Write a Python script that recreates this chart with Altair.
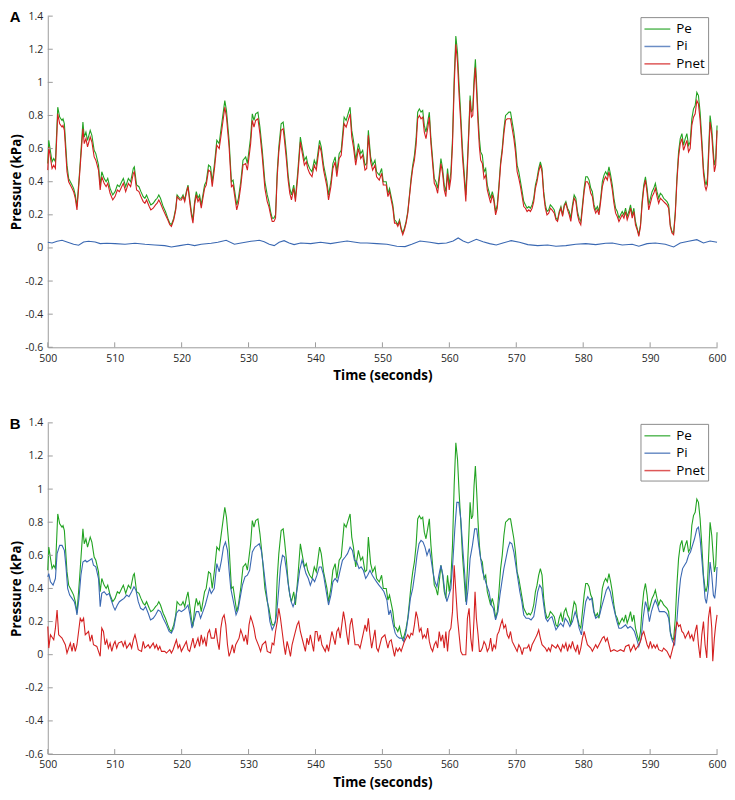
import altair as alt
import pandas as pd

# ---------------- data ----------------
# Pe (shared by both panels) and Pnet of panel A share the same time stamps
PE_T = [
    500.0, 500.15, 500.64, 500.89, 501.14, 501.49, 501.78, 502.13, 502.28, 502.48,
    502.87, 503.12, 503.37, 503.62, 503.86, 504.11, 504.36, 504.75, 505.25, 505.45,
    505.70, 505.94, 506.34, 506.59, 506.93, 507.18, 507.58, 507.83, 508.07, 508.42,
    508.72, 508.96, 509.31, 509.71, 510.05, 510.40, 510.70, 511.04, 511.29, 511.64,
    512.04, 512.38, 512.78, 512.93, 513.27, 513.62, 513.92, 514.26, 514.51, 514.76,
    515.16, 515.40, 515.75, 516.10, 516.34, 516.59, 516.84, 517.24, 517.58, 517.93,
    518.23, 518.47, 518.82, 519.12, 519.32, 519.71, 519.96, 520.21, 520.46, 520.70,
    520.95, 521.20, 521.45, 521.69, 521.94, 522.19, 522.44, 522.68, 522.93, 523.18,
    523.43, 523.67, 524.02, 524.32, 524.57, 524.91, 525.26, 525.61, 525.86, 526.45,
    526.70, 527.09, 527.44, 527.69, 527.94, 528.23, 528.48, 528.83, 529.17, 529.57,
    529.82, 530.07, 530.31, 530.56, 530.81, 531.06, 531.40, 531.70, 532.05, 532.44,
    532.79, 533.04, 533.29, 533.53, 533.78, 534.03, 534.28, 534.52, 534.87, 535.17,
    535.37, 535.66, 535.91, 536.16, 536.41, 536.75, 537.00, 537.35, 537.74, 537.99,
    538.34, 538.63, 538.83, 539.13, 539.48, 539.82, 540.12, 540.61, 540.86, 541.21,
    541.71, 541.95, 542.30, 542.60, 542.94, 543.19, 543.54, 543.84, 544.28, 544.58,
    545.17, 545.42, 545.67, 546.01, 546.41, 546.76, 547.05, 547.40, 547.65, 547.90,
    548.24, 548.54, 548.89, 549.13, 549.53, 549.88, 550.13, 550.57, 550.82, 551.06,
    551.31, 551.56, 551.81, 552.05, 552.30, 552.55, 552.80, 553.04, 553.29, 553.54,
    553.79, 554.04, 554.28, 554.53, 554.78, 555.03, 555.27, 555.52, 555.77, 556.02,
    556.26, 556.51, 556.76, 557.01, 557.25, 557.50, 557.75, 558.00, 558.25, 558.49,
    558.74, 558.99, 559.24, 559.48, 559.73, 559.98, 560.23, 560.47, 560.72, 560.97,
    561.22, 561.46, 561.71, 561.96, 562.21, 562.46, 562.70, 562.95, 563.10, 563.30,
    563.50, 563.69, 563.89, 564.09, 564.29, 564.49, 564.68, 564.93, 565.18, 565.43,
    565.67, 565.92, 566.17, 566.42, 566.66, 566.91, 567.16, 567.41, 567.66, 567.90,
    568.15, 568.40, 568.65, 568.89, 569.14, 569.39, 569.64, 569.88, 570.13, 570.38,
    570.63, 570.88, 571.12, 571.37, 571.62, 571.87, 572.11, 572.36, 572.61, 572.86,
    573.10, 573.35, 573.60, 573.85, 574.10, 574.34, 574.59, 574.84, 575.09, 575.33,
    575.68, 575.93, 576.17, 576.42, 576.67, 576.92, 577.16, 577.41, 577.66, 577.91,
    578.15, 578.40, 578.65, 578.90, 579.15, 579.39, 579.64, 579.89, 580.14, 580.38,
    580.63, 580.88, 581.13, 581.37, 581.62, 581.87, 582.12, 582.36, 582.61, 582.86,
    583.11, 583.35, 583.60, 583.85, 584.10, 584.35, 584.59, 584.84, 585.09, 585.34,
    585.58, 585.83, 586.08, 586.33, 586.57, 586.82, 587.07, 587.32, 587.57, 587.81,
    588.06, 588.31, 588.56, 588.80, 589.05, 589.30, 589.55, 589.79, 590.04, 590.29,
    590.54, 590.78, 591.03, 591.28, 591.53, 591.78, 592.02, 592.27, 592.52, 592.77,
    593.01, 593.26, 593.51, 593.76, 594.00, 594.25, 594.50, 594.75, 594.99, 595.24,
    595.49, 595.74, 595.98, 596.23, 596.48, 596.73, 596.98, 597.22, 597.47, 597.72,
    597.97, 598.21, 598.36, 598.56, 598.81, 598.96, 599.21, 599.45, 599.60, 599.80,
    600.00,
]
PE_V = [
    0.51, 0.65, 0.52, 0.54, 0.52, 0.85, 0.79, 0.77, 0.78, 0.75,
    0.50, 0.42, 0.40, 0.38, 0.36, 0.32, 0.25, 0.46, 0.76, 0.67,
    0.70, 0.65, 0.71, 0.68, 0.59, 0.57, 0.50, 0.38, 0.46, 0.42,
    0.40, 0.42, 0.36, 0.32, 0.34, 0.38, 0.37, 0.40, 0.42, 0.37,
    0.42, 0.40, 0.48, 0.49, 0.38, 0.37, 0.34, 0.31, 0.30, 0.32,
    0.28, 0.26, 0.27, 0.29, 0.30, 0.32, 0.30, 0.25, 0.22, 0.18,
    0.15, 0.14, 0.18, 0.24, 0.32, 0.30, 0.30, 0.32, 0.29, 0.34,
    0.38, 0.30, 0.22, 0.17, 0.28, 0.34, 0.30, 0.32, 0.26, 0.32,
    0.38, 0.40, 0.50, 0.49, 0.40, 0.51, 0.65, 0.63, 0.71, 0.89,
    0.83, 0.65, 0.40, 0.41, 0.34, 0.26, 0.30, 0.40, 0.53, 0.55,
    0.51, 0.59, 0.67, 0.81, 0.77, 0.81, 0.82, 0.73, 0.59, 0.40,
    0.32, 0.28, 0.22, 0.18, 0.18, 0.20, 0.46, 0.61, 0.75, 0.76,
    0.69, 0.57, 0.44, 0.36, 0.32, 0.38, 0.30, 0.46, 0.67, 0.61,
    0.53, 0.55, 0.51, 0.48, 0.46, 0.53, 0.50, 0.65, 0.61, 0.50,
    0.40, 0.32, 0.40, 0.51, 0.55, 0.46, 0.57, 0.59, 0.79, 0.77,
    0.85, 0.71, 0.65, 0.53, 0.63, 0.57, 0.59, 0.50, 0.51, 0.71,
    0.55, 0.50, 0.53, 0.46, 0.44, 0.48, 0.40, 0.40, 0.33, 0.36,
    0.31, 0.26, 0.17, 0.16, 0.14, 0.17, 0.12, 0.09, 0.12, 0.16,
    0.22, 0.32, 0.42, 0.50, 0.56, 0.66, 0.82, 0.84, 0.82, 0.83,
    0.74, 0.70, 0.76, 0.82, 0.66, 0.54, 0.42, 0.40, 0.36, 0.44,
    0.54, 0.48, 0.38, 0.34, 0.48, 0.38, 0.46, 0.66, 1.02, 1.28,
    1.18, 0.98, 0.80, 0.60, 0.46, 0.32, 0.52, 0.76, 0.92, 0.82,
    0.84, 1.02, 1.14, 0.98, 0.80, 0.66, 0.58, 0.56, 0.46, 0.48,
    0.38, 0.34, 0.30, 0.34, 0.30, 0.22, 0.26, 0.38, 0.52, 0.60,
    0.72, 0.80, 0.81, 0.82, 0.82, 0.76, 0.70, 0.62, 0.50, 0.46,
    0.40, 0.34, 0.28, 0.26, 0.24, 0.25, 0.24, 0.26, 0.30, 0.38,
    0.42, 0.48, 0.52, 0.48, 0.34, 0.26, 0.22, 0.23, 0.26, 0.25,
    0.23, 0.18, 0.17, 0.22, 0.25, 0.20, 0.26, 0.28, 0.24, 0.22,
    0.18, 0.26, 0.32, 0.30, 0.22, 0.18, 0.16, 0.26, 0.36, 0.43,
    0.43, 0.41, 0.36, 0.34, 0.26, 0.23, 0.25, 0.22, 0.30, 0.40,
    0.44, 0.46, 0.44, 0.49, 0.44, 0.38, 0.30, 0.24, 0.22, 0.18,
    0.20, 0.22, 0.20, 0.24, 0.19, 0.22, 0.26, 0.20, 0.24, 0.16,
    0.12, 0.08, 0.14, 0.28, 0.38, 0.43, 0.36, 0.26, 0.30, 0.34,
    0.36, 0.39, 0.34, 0.30, 0.33, 0.32, 0.30, 0.29, 0.28, 0.26,
    0.14, 0.10, 0.09, 0.22, 0.42, 0.58, 0.66, 0.69, 0.62, 0.66,
    0.69, 0.62, 0.64, 0.78, 0.84, 0.86, 0.94, 0.92, 0.82, 0.66,
    0.48, 0.40, 0.38, 0.42, 0.66, 0.80, 0.72, 0.58, 0.50, 0.54,
    0.74,
]
PNET_A_V = [
    0.47, 0.61, 0.48, 0.50, 0.48, 0.81, 0.75, 0.73, 0.74, 0.71,
    0.46, 0.40, 0.38, 0.36, 0.34, 0.30, 0.23, 0.44, 0.72, 0.63,
    0.66, 0.61, 0.67, 0.64, 0.55, 0.53, 0.47, 0.35, 0.43, 0.39,
    0.37, 0.39, 0.33, 0.29, 0.31, 0.35, 0.34, 0.37, 0.39, 0.34,
    0.39, 0.37, 0.45, 0.46, 0.35, 0.34, 0.31, 0.28, 0.27, 0.29,
    0.25, 0.23, 0.24, 0.26, 0.27, 0.29, 0.27, 0.23, 0.20, 0.17,
    0.14, 0.13, 0.17, 0.23, 0.31, 0.29, 0.29, 0.31, 0.28, 0.33,
    0.37, 0.28, 0.20, 0.15, 0.26, 0.32, 0.28, 0.30, 0.24, 0.30,
    0.36, 0.38, 0.47, 0.46, 0.37, 0.48, 0.62, 0.60, 0.67, 0.85,
    0.79, 0.61, 0.37, 0.38, 0.31, 0.23, 0.27, 0.37, 0.50, 0.51,
    0.47, 0.55, 0.63, 0.77, 0.73, 0.77, 0.78, 0.69, 0.55, 0.36,
    0.28, 0.25, 0.20, 0.16, 0.16, 0.18, 0.43, 0.58, 0.71, 0.72,
    0.65, 0.53, 0.41, 0.33, 0.29, 0.36, 0.28, 0.43, 0.64, 0.58,
    0.50, 0.52, 0.48, 0.45, 0.43, 0.50, 0.47, 0.62, 0.58, 0.47,
    0.37, 0.29, 0.37, 0.48, 0.52, 0.43, 0.54, 0.56, 0.75, 0.73,
    0.81, 0.67, 0.61, 0.50, 0.60, 0.54, 0.56, 0.47, 0.48, 0.68,
    0.52, 0.47, 0.50, 0.43, 0.41, 0.45, 0.38, 0.38, 0.31, 0.34,
    0.29, 0.24, 0.15, 0.15, 0.13, 0.16, 0.11, 0.08, 0.11, 0.15,
    0.21, 0.31, 0.40, 0.48, 0.53, 0.62, 0.78, 0.80, 0.78, 0.79,
    0.70, 0.66, 0.72, 0.79, 0.63, 0.51, 0.39, 0.37, 0.33, 0.41,
    0.51, 0.45, 0.35, 0.31, 0.45, 0.35, 0.42, 0.62, 0.97, 1.23,
    1.12, 0.92, 0.75, 0.55, 0.42, 0.28, 0.49, 0.73, 0.89, 0.79,
    0.80, 0.98, 1.09, 0.93, 0.75, 0.61, 0.53, 0.51, 0.42, 0.44,
    0.35, 0.31, 0.27, 0.32, 0.28, 0.20, 0.24, 0.36, 0.50, 0.58,
    0.69, 0.77, 0.78, 0.78, 0.78, 0.72, 0.66, 0.58, 0.46, 0.42,
    0.37, 0.31, 0.25, 0.24, 0.22, 0.23, 0.22, 0.24, 0.28, 0.36,
    0.40, 0.46, 0.50, 0.46, 0.32, 0.24, 0.20, 0.21, 0.24, 0.23,
    0.21, 0.17, 0.16, 0.21, 0.24, 0.19, 0.25, 0.27, 0.23, 0.20,
    0.16, 0.24, 0.30, 0.28, 0.20, 0.16, 0.14, 0.24, 0.34, 0.40,
    0.40, 0.38, 0.33, 0.31, 0.24, 0.21, 0.23, 0.20, 0.28, 0.37,
    0.41, 0.43, 0.41, 0.46, 0.41, 0.35, 0.27, 0.21, 0.19, 0.16,
    0.18, 0.20, 0.18, 0.22, 0.17, 0.20, 0.24, 0.18, 0.22, 0.14,
    0.11, 0.07, 0.13, 0.26, 0.36, 0.41, 0.33, 0.23, 0.27, 0.31,
    0.33, 0.36, 0.31, 0.27, 0.30, 0.29, 0.28, 0.27, 0.26, 0.24,
    0.13, 0.09, 0.08, 0.20, 0.40, 0.55, 0.63, 0.66, 0.59, 0.62,
    0.65, 0.58, 0.60, 0.74, 0.79, 0.81, 0.89, 0.87, 0.77, 0.62,
    0.45, 0.37, 0.35, 0.38, 0.62, 0.76, 0.68, 0.54, 0.46, 0.50,
    0.71,
]

# Pi of panel A (small, slowly varying)
PI_A_T = [
    500.00, 500.64, 501.39, 502.13, 502.87, 503.86, 504.61, 505.35, 506.09, 507.08,
    507.83, 508.82, 510.05, 511.54, 513.03, 514.51, 516.00, 517.48, 518.47, 519.71,
    520.95, 521.94, 522.93, 524.42, 525.41, 526.65, 527.89, 528.88, 530.36, 531.60,
    532.34, 533.09, 533.83, 534.57, 535.31, 536.06, 536.80, 537.79, 539.28, 540.76,
    542.25, 543.73, 544.72, 545.71, 546.71, 547.70, 549.18, 550.67, 552.15, 553.39,
    554.38, 555.62, 557.11, 558.34, 559.58, 560.57, 561.32, 562.06, 562.80, 564.04,
    565.03, 566.02, 567.01, 568.00, 569.24, 570.48, 571.72, 573.20, 574.69, 575.93,
    577.41, 578.90, 580.38, 581.87, 583.36, 584.35, 585.83, 587.32, 588.31, 589.55,
    590.78, 592.27, 593.51, 594.50, 595.74, 596.98, 597.97, 598.96, 600.00,
]
PI_A_V = [
    0.034, 0.030, 0.040, 0.046, 0.036, 0.022, 0.016, 0.036, 0.040, 0.036,
    0.026, 0.028, 0.026, 0.022, 0.028, 0.022, 0.018, 0.014, 0.006, 0.014,
    0.022, 0.014, 0.022, 0.028, 0.034, 0.046, 0.022, 0.030, 0.040, 0.046,
    0.038, 0.022, 0.014, 0.034, 0.044, 0.030, 0.020, 0.030, 0.026, 0.034,
    0.026, 0.036, 0.042, 0.036, 0.030, 0.030, 0.026, 0.022, 0.010, 0.008,
    0.022, 0.042, 0.034, 0.026, 0.030, 0.042, 0.060, 0.042, 0.030, 0.052,
    0.038, 0.026, 0.018, 0.030, 0.044, 0.034, 0.020, 0.014, 0.018, 0.010,
    0.014, 0.022, 0.026, 0.020, 0.028, 0.030, 0.018, 0.022, 0.010, 0.026,
    0.030, 0.022, 0.006, 0.030, 0.040, 0.050, 0.030, 0.042, 0.034,
]

# Pi of panel B
PI_B_T = [
    500.00, 500.15, 500.40, 500.79, 501.14, 501.39, 501.78, 502.13, 502.48, 502.72,
    502.97, 503.27, 503.62, 503.96, 504.21, 504.36, 504.66, 504.95, 505.25, 505.60,
    505.84, 506.24, 506.59, 506.83, 507.18, 507.58, 507.83, 508.07, 508.42, 508.82,
    509.16, 509.56, 509.81, 510.05, 510.40, 510.70, 511.04, 511.39, 511.79, 512.13,
    512.53, 512.88, 513.17, 513.52, 513.87, 514.26, 514.61, 515.01, 515.35, 515.75,
    516.10, 516.49, 516.84, 517.24, 517.73, 518.13, 518.47, 518.82, 519.22, 519.61,
    519.96, 520.31, 520.60, 520.95, 521.20, 521.55, 521.94, 522.19, 522.54, 522.83,
    523.18, 523.53, 523.92, 524.17, 524.42, 524.87, 525.26, 525.61, 525.95, 526.25,
    526.55, 526.85, 527.09, 527.34, 527.59, 527.84, 528.13, 528.43, 528.73, 529.08,
    529.47, 529.82, 530.16, 530.56, 530.96, 531.30, 531.60, 531.90, 532.20, 532.54,
    532.89, 533.19, 533.53, 533.88, 534.18, 534.52, 534.77, 535.07, 535.37, 535.66,
    536.01, 536.36, 536.65, 537.00, 537.35, 537.64, 537.99, 538.24, 538.58, 538.93,
    539.23, 539.58, 539.87, 540.22, 540.57, 540.86, 541.21, 541.61, 541.95, 542.30,
    542.60, 542.94, 543.29, 543.69, 544.03, 544.43, 544.78, 545.17, 545.52, 545.81,
    546.16, 546.51, 546.81, 547.15, 547.50, 547.80, 548.14, 548.49, 548.79, 549.13,
    549.48, 549.88, 550.23, 550.67, 550.96, 551.21, 551.56, 551.91, 552.20, 552.55,
    552.90, 553.19, 553.54, 553.89, 554.18, 554.53, 554.88, 555.17, 555.47, 555.77,
    556.07, 556.36, 556.66, 557.01, 557.25, 557.55, 557.85, 558.15, 558.44, 558.74,
    559.04, 559.33, 559.63, 559.93, 560.23, 560.52, 560.82, 561.12, 561.41, 561.71,
    562.01, 562.31, 562.55, 562.80, 563.10, 563.45, 563.79, 564.09, 564.39, 564.68,
    564.98, 565.28, 565.57, 565.92, 566.27, 566.57, 566.91, 567.26, 567.56, 567.85,
    568.15, 568.45, 568.75, 569.04, 569.34, 569.64, 569.93, 570.23, 570.53, 570.83,
    571.12, 571.47, 571.87, 572.21, 572.61, 572.91, 573.20, 573.50, 573.80, 574.10,
    574.39, 574.69, 574.99, 575.33, 575.93, 576.27, 576.62, 577.02, 577.31, 577.66,
    578.01, 578.40, 578.80, 579.10, 579.39, 579.74, 580.04, 580.38, 580.68, 580.98,
    581.27, 581.57, 581.87, 582.17, 582.46, 582.76, 583.11, 583.45, 583.75, 584.05,
    584.35, 584.69, 585.04, 585.34, 585.68, 586.03, 586.33, 586.67, 587.02, 587.32,
    587.66, 587.96, 588.31, 588.66, 588.95, 589.30, 589.60, 589.89, 590.19, 590.49,
    590.78, 591.08, 591.38, 591.78, 592.12, 592.47, 592.77, 593.06, 593.36, 593.66,
    593.95, 594.25, 594.55, 594.85, 595.14, 595.44, 595.74, 596.03, 596.33, 596.63,
    596.98, 597.22, 597.47, 597.72, 597.97, 598.21, 598.41, 598.71, 598.96, 599.21,
    599.45, 599.65, 599.85, 600.00,
]
PI_B_V = [
    0.47, 0.49, 0.44, 0.42, 0.46, 0.61, 0.66, 0.66, 0.63, 0.53,
    0.40, 0.36, 0.34, 0.32, 0.28, 0.24, 0.34, 0.48, 0.56, 0.57,
    0.56, 0.57, 0.58, 0.54, 0.53, 0.46, 0.29, 0.37, 0.38, 0.36,
    0.37, 0.32, 0.29, 0.27, 0.30, 0.32, 0.33, 0.34, 0.36, 0.35,
    0.38, 0.41, 0.39, 0.32, 0.28, 0.27, 0.29, 0.25, 0.21, 0.22,
    0.24, 0.27, 0.26, 0.22, 0.18, 0.14, 0.13, 0.16, 0.25, 0.27,
    0.26, 0.27, 0.28, 0.30, 0.25, 0.16, 0.22, 0.26, 0.26, 0.22,
    0.26, 0.30, 0.36, 0.40, 0.37, 0.40, 0.55, 0.50, 0.57, 0.65,
    0.68, 0.63, 0.51, 0.40, 0.35, 0.30, 0.24, 0.27, 0.34, 0.42,
    0.47, 0.48, 0.51, 0.62, 0.65, 0.66, 0.67, 0.63, 0.54, 0.42,
    0.30, 0.20, 0.15, 0.18, 0.24, 0.40, 0.53, 0.60, 0.59, 0.51,
    0.40, 0.32, 0.29, 0.33, 0.42, 0.51, 0.57, 0.54, 0.49, 0.46,
    0.42, 0.46, 0.44, 0.48, 0.53, 0.53, 0.48, 0.38, 0.30, 0.36,
    0.44, 0.46, 0.44, 0.51, 0.57, 0.59, 0.61, 0.65, 0.63, 0.57,
    0.56, 0.52, 0.53, 0.51, 0.46, 0.48, 0.51, 0.48, 0.46, 0.44,
    0.42, 0.40, 0.38, 0.33, 0.24, 0.27, 0.19, 0.13, 0.11, 0.10,
    0.10, 0.08, 0.14, 0.24, 0.34, 0.40, 0.50, 0.60, 0.67, 0.69,
    0.68, 0.65, 0.60, 0.64, 0.58, 0.50, 0.44, 0.41, 0.48, 0.54,
    0.48, 0.38, 0.32, 0.36, 0.40, 0.56, 0.76, 0.92, 0.92, 0.82,
    0.64, 0.48, 0.30, 0.40, 0.58, 0.66, 0.76, 0.76, 0.66, 0.58,
    0.50, 0.46, 0.42, 0.38, 0.30, 0.28, 0.21, 0.26, 0.36, 0.44,
    0.52, 0.58, 0.64, 0.68, 0.67, 0.62, 0.54, 0.46, 0.38, 0.32,
    0.24, 0.22, 0.22, 0.21, 0.23, 0.30, 0.38, 0.42, 0.40, 0.30,
    0.22, 0.20, 0.22, 0.23, 0.15, 0.17, 0.19, 0.17, 0.22, 0.20,
    0.17, 0.20, 0.26, 0.22, 0.16, 0.12, 0.22, 0.32, 0.35, 0.33,
    0.34, 0.26, 0.22, 0.23, 0.24, 0.29, 0.34, 0.39, 0.41, 0.38,
    0.32, 0.26, 0.20, 0.16, 0.16, 0.17, 0.18, 0.16, 0.17, 0.16,
    0.14, 0.10, 0.05, 0.10, 0.22, 0.32, 0.28, 0.20, 0.26, 0.30,
    0.33, 0.30, 0.26, 0.26, 0.26, 0.25, 0.22, 0.12, 0.08, 0.06,
    0.18, 0.34, 0.46, 0.52, 0.54, 0.56, 0.60, 0.62, 0.66, 0.70,
    0.76, 0.77, 0.70, 0.58, 0.46, 0.34, 0.31, 0.40, 0.56, 0.48,
    0.36, 0.34, 0.42, 0.53,
]

# Pnet of panel B
PNET_B_T = [
    500.00, 500.15, 500.40, 500.89, 501.14, 501.39, 501.63, 502.13, 502.62, 502.87,
    503.37, 503.62, 503.86, 504.11, 504.36, 504.85, 505.10, 505.35, 505.60, 506.09,
    506.34, 506.59, 506.83, 507.33, 507.58, 507.83, 508.07, 508.32, 508.57, 508.82,
    509.06, 509.31, 509.56, 509.81, 510.05, 510.30, 510.55, 511.04, 511.29, 511.54,
    511.79, 512.28, 512.53, 512.78, 513.03, 513.27, 513.52, 514.01, 514.26, 514.51,
    515.01, 515.26, 515.75, 516.00, 516.25, 516.49, 516.74, 516.99, 517.48, 517.73,
    518.23, 518.47, 518.72, 518.97, 519.22, 519.47, 519.71, 519.96, 520.46, 520.70,
    520.95, 521.20, 521.69, 521.94, 522.44, 522.68, 522.93, 523.18, 523.43, 523.67,
    523.92, 524.17, 524.42, 524.87, 525.11, 525.36, 525.61, 525.86, 526.10, 526.35,
    526.60, 526.85, 527.09, 527.34, 527.59, 527.84, 528.08, 528.58, 528.83, 529.08,
    529.32, 529.57, 529.82, 530.07, 530.31, 530.56, 530.81, 531.06, 531.55, 531.80,
    532.05, 532.54, 532.79, 533.29, 533.53, 533.78, 534.03, 534.28, 534.52, 534.77,
    535.02, 535.27, 535.51, 535.76, 536.01, 536.26, 536.50, 536.75, 537.25, 537.50,
    537.74, 538.24, 538.49, 538.73, 538.98, 539.23, 539.72, 539.97, 540.22, 540.47,
    540.71, 540.96, 541.46, 541.71, 541.95, 542.20, 542.45, 542.70, 542.94, 543.19,
    543.44, 543.69, 543.93, 544.18, 544.43, 544.68, 544.92, 545.17, 545.42, 545.67,
    545.91, 546.41, 546.66, 547.15, 547.40, 547.65, 547.90, 548.14, 548.39, 548.89,
    549.13, 549.38, 549.88, 550.37, 550.82, 551.06, 551.31, 551.56, 551.81, 552.05,
    552.30, 552.55, 552.80, 553.04, 553.29, 553.79, 554.04, 554.28, 554.53, 554.78,
    555.03, 555.27, 555.52, 555.77, 556.02, 556.26, 556.51, 556.76, 557.01, 557.25,
    557.50, 557.75, 558.00, 558.25, 558.49, 558.74, 558.99, 559.24, 559.48, 559.73,
    559.98, 560.23, 560.47, 560.72, 560.97, 561.22, 561.46, 561.71, 561.96, 562.46,
    562.70, 562.95, 563.20, 563.45, 563.69, 563.84, 564.04, 564.29, 564.49, 564.68,
    564.93, 565.18, 565.43, 565.67, 565.92, 566.17, 566.42, 566.66, 566.91, 567.16,
    567.41, 567.66, 567.90, 568.15, 568.40, 568.65, 568.89, 569.14, 569.39, 569.64,
    570.13, 570.38, 570.63, 570.88, 571.12, 571.62, 571.87, 572.11, 572.36, 572.61,
    572.86, 573.10, 573.35, 573.60, 573.85, 574.34, 574.59, 574.84, 575.09, 575.33,
    575.93, 576.17, 576.67, 576.92, 577.16, 577.41, 577.66, 577.91, 578.15, 578.40,
    578.65, 578.90, 579.15, 579.39, 579.64, 579.89, 580.14, 580.38, 580.63, 581.13,
    581.37, 581.87, 582.12, 582.61, 582.86, 583.11, 583.35, 583.60, 583.85, 584.10,
    584.59, 585.09, 585.58, 586.08, 586.33, 586.82, 587.07, 587.57, 587.81, 588.31,
    588.56, 588.80, 589.05, 589.30, 589.55, 589.79, 590.04, 590.29, 590.54, 590.78,
    591.03, 591.28, 591.78, 592.02, 592.52, 592.77, 593.01, 593.26, 593.51, 593.76,
    594.00, 594.25, 594.50, 594.75, 594.99, 595.24, 595.49, 595.74, 595.98, 596.23,
    596.48, 596.73, 596.98, 597.22, 597.47, 597.72, 597.97, 598.21, 598.46, 598.71,
    598.96, 599.21, 599.36, 599.60, 599.80, 600.00,
]
PNET_B_V = [
    0.17, 0.04, 0.12, 0.09, 0.16, 0.27, 0.12, 0.10, 0.06, 0.01,
    0.07, 0.02, 0.07, 0.02, 0.06, 0.22, 0.20, 0.22, 0.12, 0.14,
    0.08, 0.12, 0.06, 0.05, 0.02, -0.01, 0.16, 0.14, 0.06, 0.09,
    0.04, 0.07, 0.02, 0.06, 0.08, 0.04, 0.07, 0.08, 0.05, 0.08,
    0.04, 0.07, 0.04, 0.09, 0.12, 0.08, 0.03, 0.02, 0.08, 0.04,
    0.06, 0.04, 0.07, 0.04, 0.06, 0.03, 0.05, 0.02, 0.02, 0.01,
    0.03, 0.01, 0.03, 0.06, 0.09, 0.04, 0.06, 0.02, 0.06, 0.08,
    0.03, 0.02, 0.10, 0.04, 0.10, 0.05, 0.12, 0.07, 0.10, 0.05,
    0.13, 0.15, 0.10, 0.10, 0.16, 0.08, 0.03, 0.16, 0.22, 0.24,
    0.18, 0.06, -0.01, 0.02, 0.06, 0.01, 0.06, 0.10, 0.15, 0.12,
    0.08, 0.12, 0.06, 0.18, 0.23, 0.20, 0.16, 0.10, 0.05, 0.02,
    0.06, 0.08, 0.02, 0.01, 0.07, 0.06, 0.14, 0.20, 0.28, 0.22,
    0.14, 0.06, 0.00, 0.08, 0.04, -0.01, 0.06, 0.10, 0.18, 0.20,
    0.14, 0.06, 0.02, 0.10, 0.06, 0.12, 0.02, 0.14, 0.14, 0.08,
    0.12, 0.06, 0.02, 0.06, 0.02, 0.08, 0.14, 0.10, 0.06, 0.14,
    0.16, 0.10, 0.18, 0.26, 0.20, 0.12, 0.06, 0.18, 0.22, 0.14,
    0.06, 0.06, 0.04, 0.13, 0.18, 0.14, 0.22, 0.12, 0.04, 0.15,
    0.04, 0.02, 0.10, 0.12, 0.04, 0.08, 0.09, 0.04, -0.01, 0.04,
    0.02, 0.04, 0.02, 0.05, 0.08, 0.12, 0.10, 0.13, 0.12, 0.18,
    0.26, 0.22, 0.14, 0.16, 0.10, 0.12, 0.10, 0.16, 0.08, 0.04,
    0.02, 0.06, 0.08, 0.04, 0.14, 0.08, 0.12, 0.04, 0.14, 0.02,
    0.14, 0.16, 0.26, 0.54, 0.38, 0.22, 0.12, 0.02, 0.00, 0.00,
    0.22, 0.28, 0.10, 0.02, 0.22, 0.38, 0.22, 0.12, 0.02, 0.02,
    0.04, 0.08, 0.06, 0.02, 0.04, 0.10, 0.02, 0.06, 0.04, 0.12,
    0.14, 0.18, 0.21, 0.16, 0.18, 0.12, 0.10, 0.14, 0.08, 0.06,
    0.02, 0.06, 0.04, 0.00, 0.04, 0.04, 0.06, 0.02, 0.06, 0.08,
    0.10, 0.12, 0.15, 0.10, 0.06, 0.04, 0.02, 0.04, 0.02, 0.06,
    0.04, 0.06, 0.02, 0.06, 0.04, 0.07, 0.02, 0.06, 0.04, 0.08,
    0.04, 0.02, 0.06, 0.00, 0.04, 0.10, 0.14, 0.10, 0.06, 0.04,
    0.02, 0.06, 0.04, 0.08, 0.10, 0.11, 0.08, 0.10, 0.06, 0.02,
    0.03, 0.02, 0.03, 0.02, 0.05, 0.06, 0.02, 0.06, 0.03, 0.06,
    0.08, 0.12, 0.14, 0.10, 0.06, 0.04, 0.08, 0.04, 0.06, 0.04,
    0.06, 0.03, 0.02, 0.04, 0.02, 0.00, -0.02, 0.02, 0.06, 0.14,
    0.20, 0.17, 0.18, 0.14, 0.13, 0.10, 0.12, 0.14, 0.10, 0.12,
    0.08, 0.14, 0.18, 0.06, -0.02, 0.12, 0.20, 0.06, -0.02, 0.22,
    0.29, 0.16, -0.04, 0.10, 0.18, 0.24,
]

SERIES = ["Pe", "Pi", "Pnet"]
COLORS = ["#22a322", "#3a68b2", "#d42020"]
Y_TICKS = [-0.6, -0.4, -0.2, 0.0, 0.2, 0.4, 0.6, 0.8, 1.0, 1.2, 1.4]
X_TICKS = [500, 510, 520, 530, 540, 550, 560, 570, 580, 590, 600]

# ---------------- chart ----------------
W, H = 673, 333
AXIS_GRAY = "#9b9b9b"


def frame(t, v, name):
    return pd.DataFrame({"t": t, "v": v, "series": name})


x_enc = alt.X(
    "t:Q",
    scale=alt.Scale(domain=[500, 600], nice=False, zero=False),
    axis=alt.Axis(values=X_TICKS, format="d", title="Time (seconds)",
                  labelFlush=False, labelOverlap=False, titlePadding=5,
                  labelPadding=6),
)
y_enc = alt.Y(
    "v:Q",
    scale=alt.Scale(domain=[-0.6, 1.4], nice=False, zero=False),
    axis=alt.Axis(values=Y_TICKS, labelExpr="'' + round(datum.value * 10) / 10",
                  title="Pressure (kPa)", labelFlush=False, labelOverlap=False,
                  titlePadding=1, labelPadding=5),
)
color_enc = alt.Color(
    "series:N",
    scale=alt.Scale(domain=SERIES, range=COLORS),
    title=None,
    legend=alt.Legend(
        orient="none", legendX=596, legendY=1, direction="vertical",
        # a 16px symbol slot whose path is drawn 26px wide
        symbolType="M-1.625,0H1.625", symbolSize=256, symbolStrokeWidth=1.5,
        symbolOffset=5, symbolOpacity=0.75,
        labelFont="Open Sans", labelFontSize=13.5, labelColor="#000000",
        labelOffset=10, padding=3, rowPadding=1.5,
        strokeColor="#8c8c8c", fillColor="#ffffff",
    ),
)


def panel(label, pe, pi, pnet):
    lines = [
        alt.Chart(df).mark_line(strokeWidth=1.1).encode(x=x_enc, y=y_enc, color=color_enc)
        for df in (pe, pi, pnet)
    ]
    ytk = alt.Chart(pd.DataFrame({"v": Y_TICKS})).mark_rule(
        color=AXIS_GRAY, strokeWidth=1
    ).encode(y=y_enc, x=alt.value(0), x2=alt.value(5))
    xtk = alt.Chart(pd.DataFrame({"t": X_TICKS})).mark_rule(
        color=AXIS_GRAY, strokeWidth=1
    ).encode(x=x_enc, y=alt.value(H), y2=alt.value(H - 5))
    return alt.layer(*lines, ytk, xtk).properties(
        width=W, height=H,
        title=alt.TitleParams(
            text=label, anchor="start", frame="bounds", orient="top",
            font="Liberation Sans", fontSize=15, fontWeight="bold",
            color="#000000", baseline="top", offset=0, dy=14,
        ),
    )


panel_a = panel("A", frame(PE_T, PE_V, "Pe"), frame(PI_A_T, PI_A_V, "Pi"),
                frame(PE_T, PNET_A_V, "Pnet"))
panel_b = panel("B", frame(PE_T, PE_V, "Pe"), frame(PI_B_T, PI_B_V, "Pi"),
                frame(PNET_B_T, PNET_B_V, "Pnet"))

chart = (
    alt.vconcat(panel_a, panel_b, spacing=76, bounds="flush")
    .resolve_legend(color="independent")
    .properties(padding={"left": 1, "top": 0, "right": 0, "bottom": 0})
    .configure_view(stroke=None)
    .configure_axis(
        grid=False, ticks=False, domainColor=AXIS_GRAY, domainWidth=1,
        labelFont="Open Sans", labelFontSize=10.5, labelColor="#262626",
        titleFont="Open Sans", titleFontSize=13.5, titleFontWeight="bold",
        titleColor="#000000",
    )
)

chart.save("out.html", embed_options={"renderer": "svg", "actions": False})
